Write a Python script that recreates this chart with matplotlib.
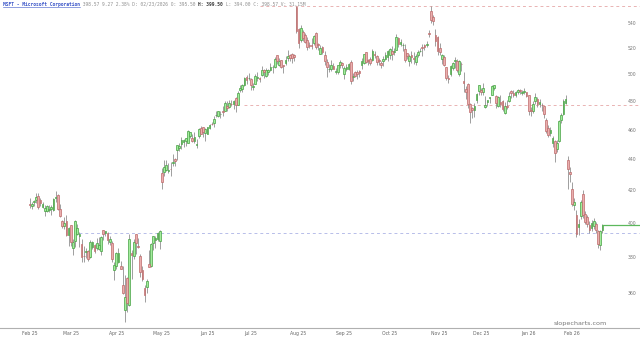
import pandas as pd
import matplotlib
matplotlib.use('Agg')
import matplotlib.pyplot as plt
from matplotlib.lines import Line2D
from matplotlib.ticker import NullLocator, NullFormatter

# daily MSFT candles, Feb 2025 - Feb 2026
start_date = '2025-02-03'
end_date = '2026-02-23'
holidays = ['2025-02-17', '2025-04-18', '2025-05-26', '2025-06-19', '2025-07-04',
            '2025-09-01', '2025-11-27', '2025-12-25', '2026-01-01', '2026-01-19',
            '2026-02-16']

opens = [
    411.6, 410.0, 412.4, 414.0, 416.5, 413.7, 409.6, 407.2, 407.0, 407.8, 408.2, 407.9, 415.3, 417.3, 408.5, 401.3, 398.0, 401.3, 392.7,
    398.8, 385.2, 389.1, 393.5, 392.3, 387.3, 380.7, 382.9, 383.2, 379.8, 385.9, 386.8, 385.1, 384.6, 383.2, 395.9, 393.9, 394.1, 388.5, 388.1, 372.5,
    374.7, 377.0, 374.8, 364.1, 350.8, 368.3, 353.5, 382.1, 380.6, 393.2, 386.6, 380.6, 372.9, 362.8, 363.4, 376.1, 375.0, 387.8, 390.1, 390.5, 389.0,
    431.1, 431.7, 432.9, 432.2, 433.8, 437.9, 440.0, 445.9, 447.8, 450.0, 451.6, 452.1, 450.8, 455.6, 454.6, 452.4, 449.5, 456.0, 461.2, 461.6, 457.5,
    457.1, 461.5, 464.0, 464.9, 470.1, 469.7, 470.8, 473.0, 473.3, 476.4, 475.7, 478.3, 478.0, 482.6, 477.3, 488.6, 489.0, 492.0, 497.6, 497.0,
    496.5, 490.2, 493.0, 497.3, 497.2, 499.2, 503.2, 498.5, 501.5, 503.0, 505.2, 505.3, 514.5, 506.7, 510.9, 506.7, 508.8, 512.5, 514.4, 515.6, 514.5, 553.5,
    535.0, 526.5, 532.8, 530.5, 526.3, 522.6, 522.3, 523.8, 532.1, 522.8, 515.8, 521.0, 515.0, 509.0, 503.6, 504.3, 506.6, 502.0, 502.0, 507.1, 508.7,
    500.5, 503.8, 504.3, 509.1, 498.1, 501.4, 502.0, 502.3, 506.7, 508.8, 516.9, 510.6, 511.5, 510.6, 515.6, 513.8, 510.4, 508.3, 510.1, 511.5, 513.2,
    514.8, 517.6, 517.1, 518.6, 528.3, 523.3, 522.3, 519.6, 516.4, 510.2, 514.8, 512.6, 509.0, 514.6, 517.5, 521.2, 522.5, 522.8, 531.8, 550.0, 544.9, 530.5, 528.9,
    519.8, 511.8, 513.3, 505.7, 496.9, 500.0, 505.0, 509.7, 510.3, 500.0, 508.0, 495.0, 489.4, 493.0, 478.5, 475.0, 474.1, 481.0, 487.6,
    488.4, 486.7, 476.3, 479.8, 482.5, 484.9, 489.6, 484.0, 476.6, 479.5, 480.2, 471.9, 477.0, 480.6, 487.4, 486.0, 484.4, 486.5, 488.0, 486.0, 487.0, 486.5,
    484.4, 474.0, 473.5, 480.0, 482.0, 478.5, 477.5, 476.5, 467.0, 461.0, 457.5, 451.0, 452.0, 447.0, 452.0, 466.5, 471.0, 479.0, 439.9, 432.0,
    421.0, 411.0, 405.0, 397.5, 404.0, 417.5, 405.5, 403.5, 398.5, 397.0, 398.0, 399.0, 395.0, 387.0, 395.5,
]
highs = [
    415.4, 412.8, 413.8, 418.2, 418.6, 415.5, 412.5, 410.7, 411.0, 410.6, 411.0, 415.5, 419.3, 418.0, 411.4, 401.9, 403.6, 405.0, 397.6,
    398.8, 390.6, 401.9, 399.5, 394.8, 390.2, 386.6, 385.2, 383.9, 390.0, 389.4, 387.3, 391.1, 391.5, 392.2, 395.9, 395.3, 394.6, 392.2, 389.1, 377.1,
    382.9, 385.1, 377.5, 374.6, 369.8, 368.7, 393.2, 383.9, 390.6, 393.2, 390.8, 381.7, 374.9, 364.5, 367.8, 384.0, 388.1, 391.9, 392.0, 394.8, 396.0,
    434.2, 439.4, 439.5, 437.7, 438.2, 443.7, 440.7, 449.4, 450.7, 455.0, 453.9, 454.4, 459.6, 458.2, 457.2, 458.2, 453.6, 460.9, 462.5, 461.7, 461.0,
    462.1, 464.1, 465.7, 469.9, 473.3, 473.4, 473.0, 476.5, 480.0, 480.2, 480.7, 481.0, 481.0, 483.5, 487.7, 491.9, 492.8, 498.0, 499.3, 500.8,
    497.0, 493.4, 500.1, 501.5, 498.0, 505.9, 504.3, 505.0, 503.9, 508.3, 507.0, 513.4, 514.6, 512.1, 511.2, 506.8, 513.7, 518.3, 515.4, 515.9, 515.5, 554.0,
    536.0, 538.3, 534.0, 531.8, 528.5, 525.0, 527.6, 530.0, 532.7, 524.4, 522.6, 521.3, 518.0, 511.4, 507.6, 510.6, 508.2, 505.0, 507.3, 511.1, 509.6,
    506.0, 507.8, 508.2, 511.0, 501.2, 502.3, 503.0, 503.2, 512.6, 515.5, 517.2, 511.3, 513.1, 519.3, 517.7, 514.6, 512.5, 510.0, 513.9, 516.9, 518.2,
    520.5, 521.6, 520.5, 531.0, 528.8, 526.9, 524.3, 523.6, 516.4, 515.3, 517.8, 516.9, 515.5, 518.7, 520.2, 523.0, 523.6, 525.4, 534.6, 553.7, 546.3, 534.9, 529.3,
    524.0, 515.6, 514.8, 505.7, 499.4, 506.8, 509.0, 513.0, 511.5, 511.0, 509.5, 502.0, 491.5, 493.8, 478.9, 476.0, 479.0, 486.0, 492.0,
    489.9, 493.5, 484.2, 481.3, 483.4, 492.3, 492.1, 484.3, 484.0, 484.6, 481.0, 479.5, 481.0, 487.0, 488.5, 488.0, 487.3, 489.0, 489.0, 488.5, 490.0, 487.0,
    485.0, 476.0, 480.0, 486.0, 483.0, 482.0, 479.0, 477.0, 468.5, 463.5, 462.0, 456.0, 453.0, 453.0, 467.0, 472.0, 481.5, 484.5, 442.0, 435.0,
    425.0, 415.0, 407.5, 402.0, 414.0, 420.5, 407.0, 405.0, 401.0, 401.5, 403.0, 400.5, 396.0, 396.0, 399.5,
]
lows = [
    408.7, 408.2, 410.0, 412.0, 408.1, 410.5, 409.0, 404.4, 406.5, 406.5, 405.0, 407.0, 412.5, 407.9, 403.3, 396.9, 396.4, 392.3, 386.6,
    386.2, 381.3, 386.0, 392.5, 385.5, 377.2, 376.9, 379.2, 377.5, 379.5, 384.8, 382.2, 384.2, 383.9, 381.0, 390.0, 392.1, 387.4, 387.0, 376.9, 367.2,
    373.0, 376.6, 373.0, 359.5, 344.8, 350.0, 353.1, 367.8, 378.9, 381.8, 385.2, 368.7, 366.7, 355.0, 359.9, 374.2, 374.4, 383.9, 385.2, 389.5, 384.8,
    420.9, 429.3, 432.1, 431.1, 429.0, 435.8, 435.9, 439.8, 445.4, 447.2, 448.1, 448.7, 450.8, 454.3, 451.9, 451.0, 447.6, 454.4, 456.9, 455.3, 452.3,
    456.9, 460.2, 463.0, 461.6, 468.8, 468.6, 468.3, 469.9, 473.2, 473.5, 475.2, 476.5, 474.5, 472.6, 477.2, 486.5, 486.8, 491.4, 493.0, 495.6,
    488.5, 488.6, 492.8, 494.9, 494.1, 498.5, 497.4, 497.8, 499.1, 502.8, 501.0, 505.0, 507.6, 506.0, 505.0, 500.7, 507.2, 510.4, 510.1, 508.6, 510.0, 531.6,
    520.1, 525.0, 526.0, 524.0, 518.3, 520.0, 519.3, 522.7, 519.5, 518.6, 515.8, 515.1, 507.3, 497.6, 502.0, 502.4, 503.8, 499.9, 499.9, 505.0, 504.5,
    496.4, 502.3, 503.0, 492.4, 495.0, 497.7, 496.6, 497.7, 503.9, 507.5, 508.6, 507.3, 507.3, 510.3, 512.5, 507.3, 506.9, 505.0, 506.6, 511.1, 509.7,
    511.7, 510.7, 515.0, 518.2, 521.2, 521.5, 517.4, 509.6, 511.7, 506.0, 508.4, 508.1, 507.3, 513.4, 516.7, 514.0, 518.8, 520.7, 529.0, 540.3, 538.5, 521.7, 515.0,
    514.6, 507.6, 506.1, 495.8, 493.2, 498.8, 503.0, 505.0, 501.5, 498.9, 502.3, 486.8, 481.8, 475.3, 464.9, 468.0, 468.7, 479.2, 484.9,
    484.7, 484.5, 475.2, 476.5, 478.9, 484.3, 488.5, 475.1, 476.0, 476.0, 473.5, 471.0, 474.5, 479.5, 482.5, 483.4, 483.5, 485.5, 485.5, 484.5, 485.5, 483.0,
    470.2, 469.5, 471.5, 478.0, 476.0, 476.0, 472.8, 468.5, 457.5, 455.0, 455.5, 448.5, 438.0, 445.0, 451.5, 464.5, 470.0, 478.0, 421.0, 425.0,
    410.0, 408.0, 391.5, 393.0, 402.5, 403.0, 399.0, 397.5, 394.0, 395.0, 396.5, 394.0, 385.0, 384.0, 394.0,
]
closes = [
    410.9, 411.4, 413.3, 415.8, 409.8, 412.2, 411.4, 409.0, 410.5, 408.4, 409.6, 414.8, 416.1, 408.2, 404.0, 397.9, 399.7, 392.5, 397.0,
    388.5, 388.6, 401.0, 396.9, 393.3, 380.2, 380.4, 383.3, 378.8, 388.6, 388.7, 383.5, 387.8, 386.8, 391.3, 393.1, 395.2, 390.0, 390.6, 378.8, 375.4,
    382.2, 382.1, 373.1, 359.8, 357.9, 354.6, 390.5, 381.4, 388.5, 387.8, 385.7, 371.6, 367.8, 359.1, 366.8, 374.4, 387.3, 391.9, 391.2, 394.0, 395.3,
    425.4, 435.3, 436.2, 433.3, 433.4, 438.2, 438.7, 449.4, 449.1, 452.9, 453.1, 454.3, 458.9, 458.2, 452.6, 454.9, 450.2, 460.7, 457.4, 458.7, 460.4,
    462.0, 463.0, 463.9, 467.7, 470.4, 472.8, 470.9, 472.6, 478.9, 475.0, 479.1, 478.0, 480.2, 477.4, 486.0, 490.1, 492.3, 497.5, 495.9, 497.4,
    492.1, 491.1, 498.8, 497.7, 496.6, 503.5, 501.5, 503.3, 503.0, 505.8, 505.6, 511.7, 510.1, 510.1, 505.3, 505.9, 510.9, 513.7, 512.5, 512.6, 513.2, 533.5,
    524.1, 535.6, 527.8, 524.9, 520.8, 522.0, 521.8, 529.2, 520.6, 522.5, 520.2, 517.1, 509.8, 505.7, 504.2, 507.2, 504.3, 502.4, 506.7, 509.6, 506.7,
    505.1, 505.4, 508.0, 495.0, 498.2, 498.4, 500.4, 501.0, 509.9, 515.4, 509.0, 510.0, 508.5, 517.9, 514.5, 509.2, 510.2, 507.0, 511.5, 514.6, 518.0,
    519.7, 515.7, 517.4, 528.6, 523.0, 524.9, 522.4, 511.0, 514.1, 513.6, 513.4, 511.6, 513.6, 516.8, 517.7, 520.5, 520.6, 523.6, 531.5, 542.1, 541.6, 525.8, 517.8,
    517.0, 514.3, 507.2, 497.1, 496.8, 506.0, 508.7, 511.1, 503.3, 510.2, 507.5, 493.8, 487.1, 478.4, 472.1, 474.0, 477.0, 485.5, 492.0,
    486.7, 490.0, 477.7, 480.8, 483.2, 491.0, 492.0, 478.6, 483.5, 478.5, 474.8, 476.4, 476.1, 484.0, 485.9, 484.9, 486.9, 488.0, 487.7, 487.1, 487.5, 483.6,
    472.9, 472.9, 478.5, 483.5, 478.1, 479.3, 477.2, 470.7, 459.4, 456.7, 459.9, 454.5, 444.1, 451.1, 466.0, 470.3, 480.6, 481.6, 433.5, 430.3,
    411.5, 413.0, 393.5, 399.5, 412.5, 404.5, 400.5, 399.5, 396.0, 400.0, 401.0, 396.0, 387.5, 395.0, 398.6,
]

# horizontal levels drawn on the chart: (price, first bar index, colour, style)
levels = [(554.0, 106, '#e9b3b3', (0, (3, 3))),
          (477.4, 99, '#e9b3b3', (0, (3, 3))),
          (394.0, 23, '#b7bde9', (0, (3, 3)))]

price_ticks = [360, 380, 400, 420, 440, 460, 480, 500, 520, 540]

title_name = 'MSFT - Microsoft Corporation'
title_rest = ' 398.57 9.27 2.38% D: 02/23/2026 O: 395.50 '
title_bold = 'H: 399.50'
title_tail = ' L: 394.00 C: 398.57 V: 31.15M'

dates = pd.bdate_range(start_date, end_date, freq='C', holidays=holidays)
df = pd.DataFrame({'open': opens, 'high': highs, 'low': lows, 'close': closes}, index=dates)
df['x'] = range(len(df))
up = df['close'] >= df['open']

fig = plt.figure(figsize=(6.4, 3.4), dpi=100)
ax = fig.add_axes([0, 12.5 / 340, 1, 327.5 / 340])
ax.set_yscale('log')
ax.set_ylim(341.8, 559.0)
ax.set_xlim(-13.6, 281.3)

# wicks
ax.vlines(df['x'], df['low'], df['high'], color='#858585', linewidth=0.55, zorder=2)

# bodies
body_lo = df[['open', 'close']].min(axis=1)
body_h = (df['close'] - df['open']).abs().clip(lower=0.4)
ax.bar(df['x'][up], body_h[up], bottom=body_lo[up], width=0.78,
       color='#a2ec9c', edgecolor='#46a042', linewidth=0.5, zorder=3)
ax.bar(df['x'][~up], body_h[~up], bottom=body_lo[~up], width=0.78,
       color='#eaaeae', edgecolor='#bd6a6a', linewidth=0.5, zorder=3)

for price, i0, col, ls in levels:
    ax.hlines(price, i0, 281.3, color=col, linewidth=0.7, linestyles=[ls], zorder=1)

# last price line
ax.hlines(df['close'].iloc[-1], df['x'].iloc[-1], 281.3, color='#5cb85c', linewidth=0.9, zorder=4)

# axes look
for side in ['top', 'left', 'right']:
    ax.spines[side].set_visible(False)
ax.spines['bottom'].set_color('#b0b0b0')
ax.spines['bottom'].set_linewidth(0.8)

month_first = df.groupby([df.index.year, df.index.month])['x'].first()
ax.set_xticks(month_first.values)
ax.set_xticklabels([df.index[i].strftime('%b %y') for i in month_first.values])
ax.tick_params(axis='x', length=0, pad=2.5, labelsize=3.3, labelcolor='#666666')

ax.yaxis.tick_right()
ax.yaxis.set_minor_locator(NullLocator())
ax.yaxis.set_minor_formatter(NullFormatter())
ax.set_yticks(price_ticks)
ax.set_yticklabels([str(p) for p in price_ticks])
ax.tick_params(axis='y', length=0, pad=-9, labelsize=3.3, labelcolor='#777777')

fig.text(607 / 640, 1 - 323 / 340, 'slopecharts.com', ha='right', va='center',
         fontsize=4.6, color='#777777')

# title line, pieces laid out one after another
fig.canvas.draw()
renderer = fig.canvas.get_renderer()
xpos = 3
ypos = 1 - 4.5 / 340
pieces = [(title_name, '#3a55c8', 'bold'), (title_rest, '#909090', 'normal'),
          (title_bold, '#404040', 'bold'), (title_tail, '#909090', 'normal')]
for txt, col, wt in pieces:
    t = fig.text(xpos / 640, ypos, txt, ha='left', va='center', fontsize=3.3,
                 family='DejaVu Sans Mono', color=col, fontweight=wt)
    bb = t.get_window_extent(renderer)
    if txt == title_name:
        fig.add_artist(Line2D([bb.x0 / 640, bb.x1 / 640], [(bb.y0 - 0.3) / 340] * 2,
                              color=col, linewidth=0.4))
    xpos = bb.x1

fig.savefig('out.png', dpi=100)
